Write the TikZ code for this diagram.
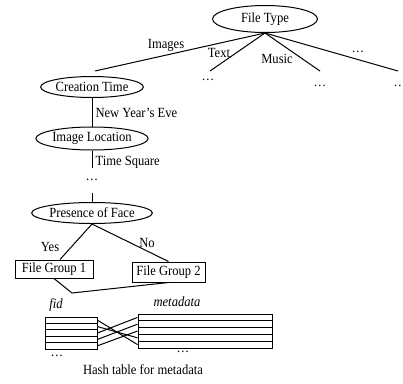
\documentclass[tikz,border=0pt]{standalone}
\usepackage{fontspec}
\setmainfont{Liberation Serif}[FakeStretch=0.9]
\usetikzlibrary{shapes.geometric}
\begin{document}
\begin{tikzpicture}[x=1pt,y=-1pt, line width=1pt,
 every node/.style={font=\fontsize{14}{16}\selectfont},
 ell/.style={draw, ellipse, inner sep=0pt},
 grp/.style={draw, rectangle, inner sep=0pt},
 lbl/.style={inner sep=0pt},
 frow/.style={draw, rectangle, inner sep=0pt, minimum width=52pt, minimum height=6.4pt},
 mrow/.style={draw, rectangle, inner sep=0pt, minimum width=134pt, minimum height=6.8pt}]
\useasboundingbox (0,0) rectangle (403,383);
% tree nodes
\node[ell, minimum width=105pt, minimum height=27pt] (ft) at (265,19) {File Type};
\node[ell, minimum width=100pt, minimum height=21pt] (ct) at (92,87) {Creation Time};
\node[ell, minimum width=102pt, minimum height=23pt] (il) at (92,138.5) {Image Location};
\node[lbl, minimum height=24pt] (d1) at (92,180) {\dots};
\node[ell, minimum width=102pt, minimum height=21pt] (pf) at (92,213) {Presence of Face};
\node[grp, minimum width=78pt, minimum height=18pt] (g1) at (54,269) {File Group 1};
\node[grp, minimum width=73pt, minimum height=20pt] (g2) at (168.5,272) {File Group 2};
% branch ends
\coordinate (ie) at (95,71);
\coordinate (te) at (210,71);
\coordinate (me) at (320,71);
\coordinate (oe) at (398,71);
\node[lbl] (td) at (208,80) {\dots};
\node[lbl] (md) at (320,86) {\dots};
\node[lbl] (od) at (400,86) {\dots};
% connectors
\draw (ft.south) -- (ie);
\draw (ft.south) -- (te);
\draw (ft.south) -- (me);
\draw (ft.south) -- (oe);
\draw (ct.south) -- (il.north);
\draw (il.south) -- (d1.north);
\draw (d1.south) -- (pf.north);
\draw (pf.south) -- ([xshift=6pt]g1.north);
\draw (pf.south) -- (g2.north);
\coordinate (vee) at (72,293);
\draw (g1.south) -- (vee) -- (g2.south);
% edge labels
\node[lbl] (limg) at (166,45) {Images};
\node[lbl] (ltxt) at (219,53) {Text};
\node[lbl] (lmus) at (277,59) {Music};
\node[lbl] (loth) at (358,52) {\dots};
\node[lbl, anchor=west] (lnye) at (95,113) {New Year's Eve};
\node[lbl, anchor=west] (lts) at (95,162) {Time Square};
\node[lbl] (lyes) at (50,247) {Yes};
\node[lbl] (lno) at (147,243) {No};
% hash table
\foreach \i in {1,...,5} {
  \node[frow] (f\i) at (71,{313.8+6.4*\i}) {};
  \node[mrow] (m\i) at (205,{310.6+6.8*\i}) {};
}
\draw (f1.east) -- (m5.west);
\draw (f2.east) -- (m4.west);
\draw (f3.east) -- (m1.west);
\draw (f4.east) -- (m2.west);
\draw (f5.east) -- (m3.west);
\node[lbl] (lfid) at (56,305) {\itshape fid};
\node[lbl] (lmeta) at (177,302) {\itshape metadata};
\node[lbl] (fd) at (57,356) {\dots};
\node[lbl] (mdd) at (183,352) {\dots};
\node[lbl] (cap) at (143,370) {Hash table for metadata};
\end{tikzpicture}
\end{document}
